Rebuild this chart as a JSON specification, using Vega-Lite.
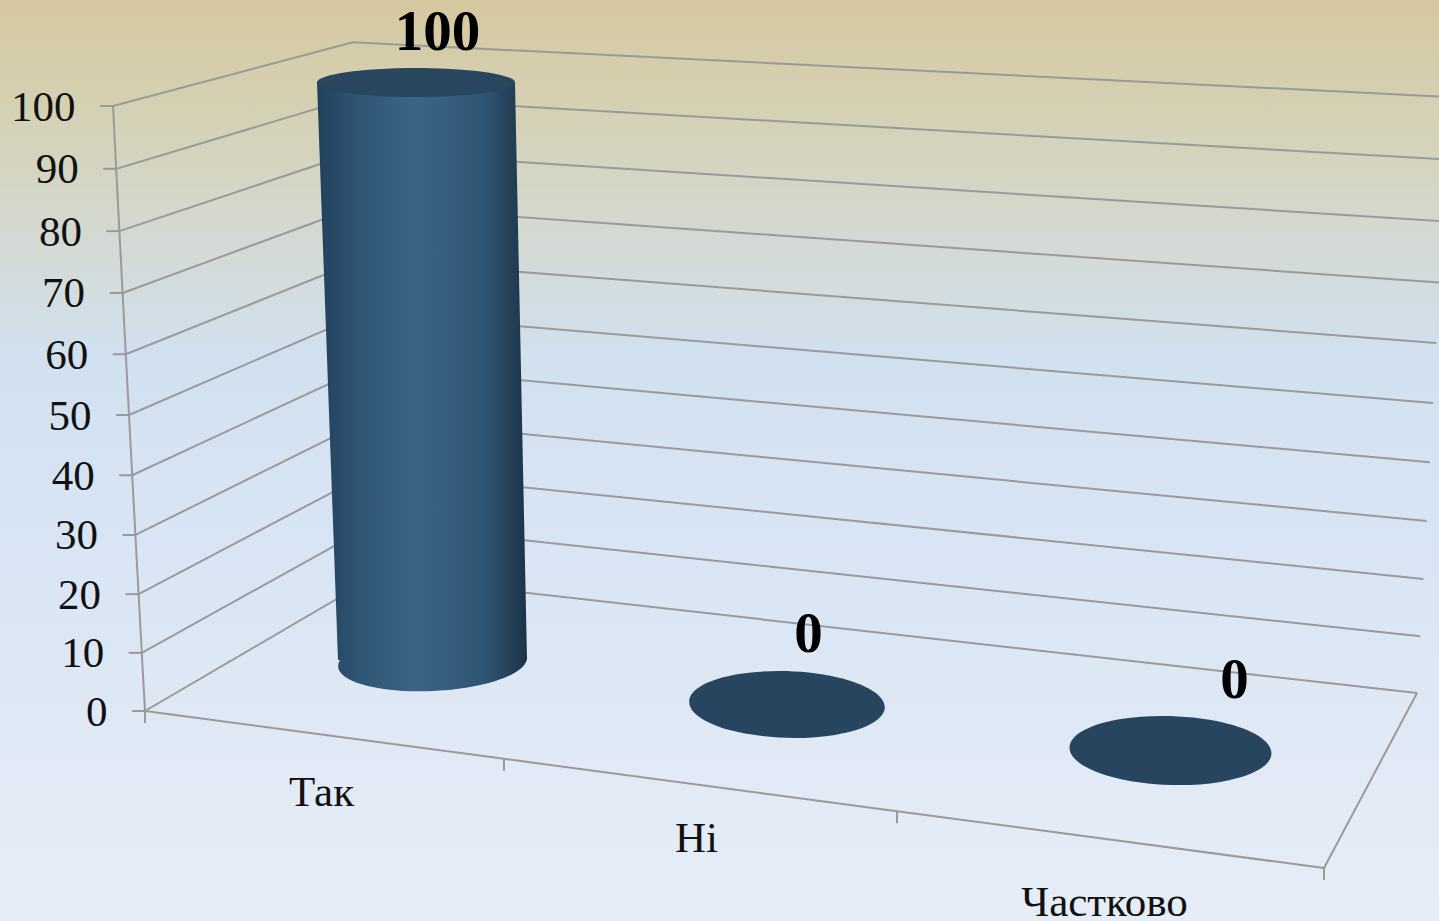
{
"$schema":"https://vega.github.io/schema/vega-lite/v6.json",
"width":1439,"height":921,"padding":0,
"autosize":{"type":"none"},
"view":{"stroke":null,"fill":{"gradient":"linear","x1":0,"y1":0,"x2":0,"y2":1,"stops":[{"offset":0,"color":"#d6c8a0"},{"offset":0.11,"color":"#d5d0b2"},{"offset":0.22,"color":"#d4d7c9"},{"offset":0.3,"color":"#d3dcdc"},{"offset":0.38,"color":"#d1e0ee"},{"offset":0.5,"color":"#d5e3f3"},{"offset":0.75,"color":"#dee8f5"},{"offset":1,"color":"#e6edf7"}]}},
"datasets":{
"results":[{"category":"Так","value":100},{"category":"Ні","value":0},{"category":"Частково","value":0}],
"ticks":[{"tick":0},{"tick":10},{"tick":20},{"tick":30},{"tick":40},{"tick":50},{"tick":60},{"tick":70},{"tick":80},{"tick":90},{"tick":100}],
"boundaries":[{"boundary":0},{"boundary":1},{"boundary":2},{"boundary":3}]
},
"encoding":{},
"layer":[
{"data":{"name":"ticks"},
 "transform":[
  {"calculate":"145-0.32*datum.tick","as":"fx"},{"calculate":"711-5.79*datum.tick-0.0026*datum.tick*datum.tick","as":"fy"},
  {"calculate":"376-0.23*datum.tick","as":"bx"},{"calculate":"576-5.18*datum.tick-0.00157*datum.tick*datum.tick","as":"by"}],
 "mark":{"type":"rule","color":"#9a9a9a","strokeWidth":2},
 "encoding":{"x":{"field":"fx","type":"quantitative","scale":{"domain":[0,1439],"nice":false,"zero":false},"axis":null},
  "y":{"field":"fy","type":"quantitative","scale":{"domain":[921,0],"nice":false,"zero":false},"axis":null},
  "x2":{"field":"bx"},"y2":{"field":"by"}}},
{"data":{"name":"ticks"},
 "transform":[
  {"calculate":"376-0.23*datum.tick","as":"bx"},{"calculate":"576-5.18*datum.tick-0.00157*datum.tick*datum.tick","as":"by"},
  {"calculate":"1417+0.32*datum.tick","as":"rx"},{"calculate":"693-5.64*datum.tick-0.0032*datum.tick*datum.tick","as":"ry"}],
 "mark":{"type":"rule","color":"#9a9a9a","strokeWidth":2},
 "encoding":{"x":{"field":"bx","type":"quantitative","axis":null},"y":{"field":"by","type":"quantitative","axis":null},"x2":{"field":"rx"},"y2":{"field":"ry"}}},
{"data":{"name":"ticks"},
 "transform":[{"calculate":"145-0.32*datum.tick","as":"fx"},{"calculate":"711-5.79*datum.tick-0.0026*datum.tick*datum.tick","as":"fy"},{"calculate":"datum.fx-13","as":"tx"}],
 "mark":{"type":"rule","color":"#9a9a9a","strokeWidth":2},
 "encoding":{"x":{"field":"tx","type":"quantitative","axis":null},"y":{"field":"fy","type":"quantitative","axis":null},"x2":{"field":"fx"}}},
{"data":{"name":"ticks"},
 "transform":[{"calculate":"145-0.32*datum.tick","as":"fx"},{"calculate":"711-5.79*datum.tick-0.0026*datum.tick*datum.tick","as":"fy"}],
 "mark":{"type":"line","color":"#9a9a9a","strokeWidth":2},
 "encoding":{"x":{"field":"fx","type":"quantitative","axis":null},"y":{"field":"fy","type":"quantitative","axis":null},"order":{"field":"tick","type":"quantitative"}}},
{"data":{"name":"ticks"},
 "transform":[{"calculate":"145-0.32*datum.tick-37.5","as":"fx"},{"calculate":"712.5-5.79*datum.tick-0.0026*datum.tick*datum.tick","as":"fy"}],
 "mark":{"type":"text","align":"right","baseline":"middle","font":"Liberation Serif","fontSize":43,"color":"#111111"},
 "encoding":{"x":{"field":"fx","type":"quantitative","axis":null},"y":{"field":"fy","type":"quantitative","axis":null},"text":{"field":"tick","type":"nominal"}}},
{"data":{"name":"boundaries"},
 "transform":[{"calculate":"145+342*datum.boundary+17*datum.boundary*datum.boundary","as":"ex"},{"calculate":"711+(datum.ex-145)*0.1332","as":"ey"}],
 "mark":{"type":"line","color":"#9a9a9a","strokeWidth":2},
 "encoding":{"x":{"field":"ex","type":"quantitative","axis":null},"y":{"field":"ey","type":"quantitative","axis":null},"order":{"field":"boundary","type":"quantitative"}}},
{"data":{"name":"boundaries"},
 "transform":[{"calculate":"145+342*datum.boundary+17*datum.boundary*datum.boundary","as":"ex"},{"calculate":"711+(datum.ex-145)*0.1332","as":"ey"},{"calculate":"datum.ey+12","as":"ey2"}],
 "mark":{"type":"rule","color":"#9a9a9a","strokeWidth":2},
 "encoding":{"x":{"field":"ex","type":"quantitative","axis":null},"y":{"field":"ey","type":"quantitative","axis":null},"y2":{"field":"ey2"}}},
{"data":{"name":"boundaries"},
 "transform":[{"filter":"datum.boundary==3"},{"calculate":"145+342*datum.boundary+17*datum.boundary*datum.boundary","as":"ex"},{"calculate":"711+(datum.ex-145)*0.1332","as":"ey"},{"calculate":"1417","as":"dx"},{"calculate":"693","as":"dy"}],
 "mark":{"type":"rule","color":"#9a9a9a","strokeWidth":2},
 "encoding":{"x":{"field":"ex","type":"quantitative","axis":null},"y":{"field":"ey","type":"quantitative","axis":null},"x2":{"field":"dx"},"y2":{"field":"dy"}}},
{"data":{"name":"results"},
 "transform":[{"calculate":"indexof(['Так','Ні','Частково'],datum.category)","as":"i"},{"calculate":"432.5+340*datum.i+14.5*datum.i*datum.i","as":"bx"},{"calculate":"662+40.75*datum.i+1.75*datum.i*datum.i","as":"by"},{"filter":"datum.value==0"}],
 "mark":{"type":"point","filled":true,"opacity":1,"color":"#27455f","shape":"M -0.9995 -0.0314 A 1 0.34 1.8 1 1 0.9995 0.0314 A 1 0.34 1.8 1 1 -0.9995 -0.0314 Z"},
 "encoding":{"x":{"field":"bx","type":"quantitative","axis":null},"y":{"field":"by","type":"quantitative","axis":null},
  "size":{"field":"category","type":"ordinal","scale":{"domain":["Так","Ні","Частково"],"range":[35721,40800,48841]},"legend":null}}},
{"data":{"name":"results"},
 "transform":[{"calculate":"indexof(['Так','Ні','Частково'],datum.category)","as":"i"},{"calculate":"432.5+340*datum.i+14.5*datum.i*datum.i","as":"bx"},{"calculate":"662+40.75*datum.i+1.75*datum.i*datum.i","as":"by"},{"filter":"datum.value>0"}],
 "mark":{"type":"point","filled":true,"opacity":1,"fill":{"gradient":"linear","x1":0,"y1":0,"x2":1,"y2":0,"stops":[{"offset":0,"color":"#294b68"},{"offset":0.111,"color":"#2f5675"},{"offset":0.411,"color":"#3b6485"},{"offset":0.778,"color":"#2f5574"},{"offset":0.967,"color":"#1f384e"},{"offset":1,"color":"#1c3348"}]},"shape":"M -0.9989 0.0471 A 1 0.307 -2.7 1 1 0.9989 -0.0471 A 1 0.307 -2.7 1 1 -0.9989 0.0471 Z"},
 "encoding":{"x":{"field":"bx","type":"quantitative","axis":null},"y":{"field":"by","type":"quantitative","axis":null},
  "size":{"field":"category","type":"ordinal","scale":{"domain":["Так","Ні","Частково"],"range":[35721,40800,48841]},"legend":null}}},
{"data":{"name":"results"},
 "transform":[{"filter":"datum.value>0"},{"calculate":"indexof(['Так','Ні','Частково'],datum.category)","as":"i"},{"calculate":"432.5+340*datum.i+14.5*datum.i*datum.i","as":"bx"},{"calculate":"660+40.75*datum.i+1.75*datum.i*datum.i","as":"by"},
  {"calculate":"0","as":"zero"},{"fold":["zero","value"],"as":["end","v"]},
  {"calculate":"datum.by-5.775*datum.v","as":"py"},
  {"calculate":"datum.bx-0.165*datum.v-94.5-0.045*datum.v","as":"xl"},
  {"calculate":"datum.bx-0.165*datum.v+94.5+0.045*datum.v","as":"xr"}],
 "mark":{"type":"area","orient":"horizontal","fill":{"gradient":"linear","x1":0,"y1":0,"x2":1,"y2":0,"stops":[{"offset":0,"color":"#22405a"},{"offset":0.2,"color":"#2f5675"},{"offset":0.47,"color":"#3b6485"},{"offset":0.8,"color":"#2f5574"},{"offset":0.97,"color":"#1f384e"},{"offset":1,"color":"#1c3348"}]}},
 "encoding":{"y":{"field":"py","type":"quantitative","axis":null},"x":{"field":"xl","type":"quantitative","axis":null},"x2":{"field":"xr"}}},
{"data":{"name":"results"},
 "transform":[{"filter":"datum.value>0"},{"calculate":"indexof(['Так','Ні','Частково'],datum.category)","as":"i"},{"calculate":"432.5+340*datum.i+14.5*datum.i*datum.i-0.165*datum.value","as":"tx"},{"calculate":"662+40.75*datum.i+1.75*datum.i*datum.i-5.795*datum.value","as":"ty"}],
 "mark":{"type":"point","filled":true,"opacity":1,"color":"#29465f","size":39204,"shape":"M -1 0 A 1 0.147 0 1 1 1 0 A 1 0.147 0 1 1 -1 0 Z"},
 "encoding":{"x":{"field":"tx","type":"quantitative","axis":null},"y":{"field":"ty","type":"quantitative","axis":null}}},
{"data":{"name":"results"},
 "transform":[{"calculate":"indexof(['Так','Ні','Частково'],datum.category)","as":"i"},{"calculate":"437.5+343.5*datum.i+27.5*datum.i*datum.i","as":"lx"},{"calculate":"662+40.75*datum.i+1.75*datum.i*datum.i-70-5.59*datum.value","as":"ly"}],
 "mark":{"type":"text","align":"center","baseline":"middle","font":"Liberation Serif","fontWeight":"bold","fontSize":57,"color":"#000000"},
 "encoding":{"x":{"field":"lx","type":"quantitative","axis":null},"y":{"field":"ly","type":"quantitative","axis":null},"text":{"field":"value","type":"nominal"}}},
{"data":{"name":"results"},
 "transform":[{"calculate":"indexof(['Так','Ні','Частково'],datum.category)","as":"i"},{"calculate":"321.5+358.5*datum.i+16.5*datum.i*datum.i","as":"lx"},{"calculate":"793+37*datum.i+9*datum.i*datum.i","as":"ly"}],
 "mark":{"type":"text","align":"center","baseline":"middle","font":"Liberation Serif","fontSize":43,"color":"#111111"},
 "encoding":{"x":{"field":"lx","type":"quantitative","axis":null},"y":{"field":"ly","type":"quantitative","axis":null},"text":{"field":"category","type":"nominal"}}}
]}
